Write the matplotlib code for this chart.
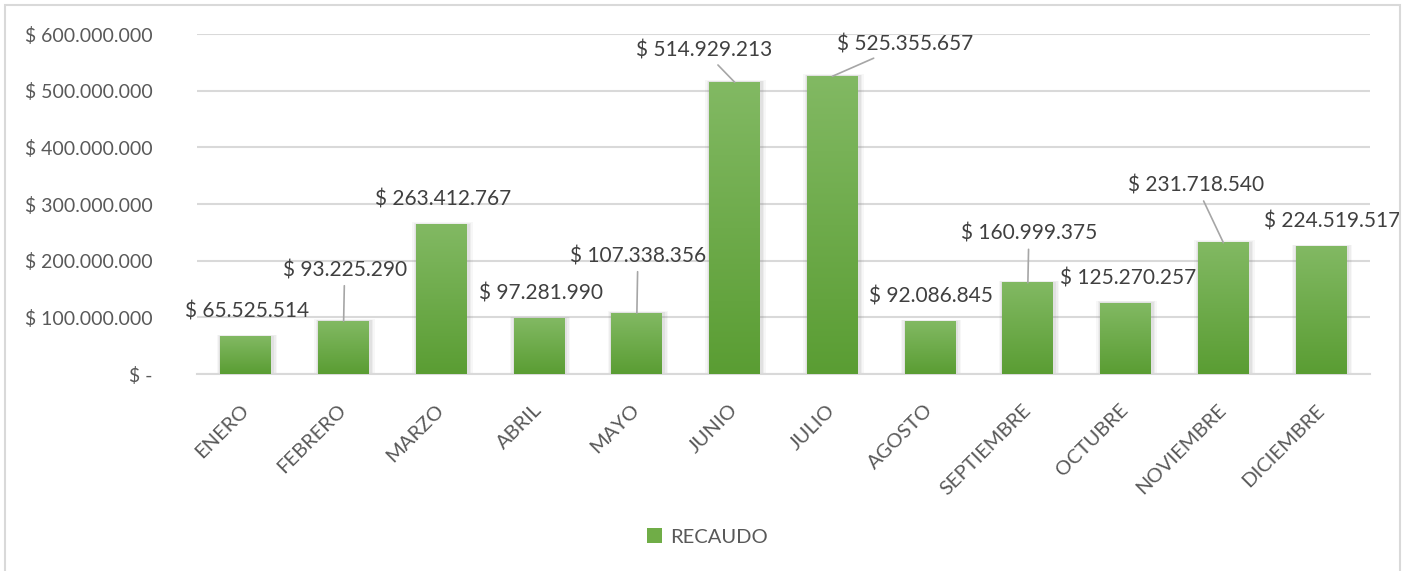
import numpy as np
import matplotlib.pyplot as plt
from matplotlib.colors import LinearSegmentedColormap
from matplotlib.patches import Rectangle, Patch

plt.rcParams['font.family'] = ['Lato', 'DejaVu Sans']

meses = ['ENERO', 'FEBRERO', 'MARZO', 'ABRIL', 'MAYO', 'JUNIO', 'JULIO',
         'AGOSTO', 'SEPTIEMBRE', 'OCTUBRE', 'NOVIEMBRE', 'DICIEMBRE']
recaudo = [65525514, 93225290, 263412767, 97281990, 107338356, 514929213,
           525355657, 92086845, 160999375, 125270257, 231718540, 224519517]
yticks = [0, 100e6, 200e6, 300e6, 400e6, 500e6, 600e6]

# label offsets in pixels from bar top (dx, dy) and whether a leader line is drawn
lab_off = [(1, 25), (1, 51), (2, 25), (2, 25), (1, 57), (-31, 32),
           (73, 32), (1, 25), (1, 49), (2, 25), (-27, 57), (11, 25)]
leader = [False, True, False, False, True, True,
          True, False, True, False, True, False]

def pesos(v):
    if v == 0:
        return '$ -'
    return '$ ' + f'{int(v):,}'.replace(',', '.')

txt = '#595959'
grid = '#d9d9d9'
fig = plt.figure(figsize=(14.06, 5.71), dpi=100)
ax = fig.add_axes([197/1406, 1-374/571, (1370-197)/1406, 340/571])

# outer chart border
fig.patches.append(Rectangle((5/1406, -0.1), 1395/1406, 1.1-5/571,
                             transform=fig.transFigure, fill=False,
                             ec='#d9d9d9', lw=1.5))

cmap = LinearSegmentedColormap.from_list('g', ['#5a9d33', '#82b963'])
grad = np.linspace(0, 1, 256).reshape(-1, 1)
w = 0.52
x = np.arange(len(meses))
for i, v in enumerate(recaudo):
    # soft shadow
    for k, a in [(0.10, 0.06), (0.07, 0.08), (0.04, 0.10)]:
        ax.add_patch(Rectangle((i - w/2 - k/2 + 0.01, -2e6), w + k, v + 2e6 + k*40e6,
                               color='#808080', alpha=a, lw=0, zorder=2))
    ax.imshow(grad, extent=(i - w/2, i + w/2, 0, v), origin='lower',
              cmap=cmap, aspect='auto', zorder=3)
    if leader[i]:
        ax.annotate(pesos(v), xy=(i, v), xytext=lab_off[i],
                    textcoords='offset pixels', ha='center', va='center',
                    fontsize=15, color='#404040',
                    arrowprops=dict(arrowstyle='-', color='#a6a6a6', lw=1.2,
                                    shrinkA=2, shrinkB=0), zorder=5)
    else:
        ax.annotate(pesos(v), xy=(i, v), xytext=lab_off[i],
                    textcoords='offset pixels', ha='center', va='center',
                    fontsize=15, color='#404040', zorder=5)

ax.set_xlim(-0.5, len(meses) - 0.5)
ax.set_ylim(0, 600e6)
ax.set_yticks(yticks)
ax.set_yticklabels([pesos(t) for t in yticks], fontsize=14)
ax.set_xticks(x)
ax.set_xticklabels(meses, rotation=45, ha='right', va='center',
                   rotation_mode='anchor', fontsize=14.5)
ax.tick_params(axis='both', length=0, labelcolor=txt)
ax.tick_params(axis='y', pad=32)
ax.tick_params(axis='x', pad=24)
ax.grid(axis='y', color=grid, lw=1.5, zorder=0)
ax.set_axisbelow(True)
for s in ['top', 'right', 'left']:
    ax.spines[s].set_visible(False)
ax.spines['bottom'].set_color(grid)
ax.spines['bottom'].set_linewidth(1.5)

fig.legend(handles=[Patch(facecolor='#70ad47', label='RECAUDO')],
           loc='center', bbox_to_anchor=(707/1406, 1-537/571), frameon=False,
           fontsize=14.5, labelcolor=txt, handlelength=0.75, handleheight=0.75,
           handletextpad=0.4)

fig.savefig('out.png', dpi=100)
